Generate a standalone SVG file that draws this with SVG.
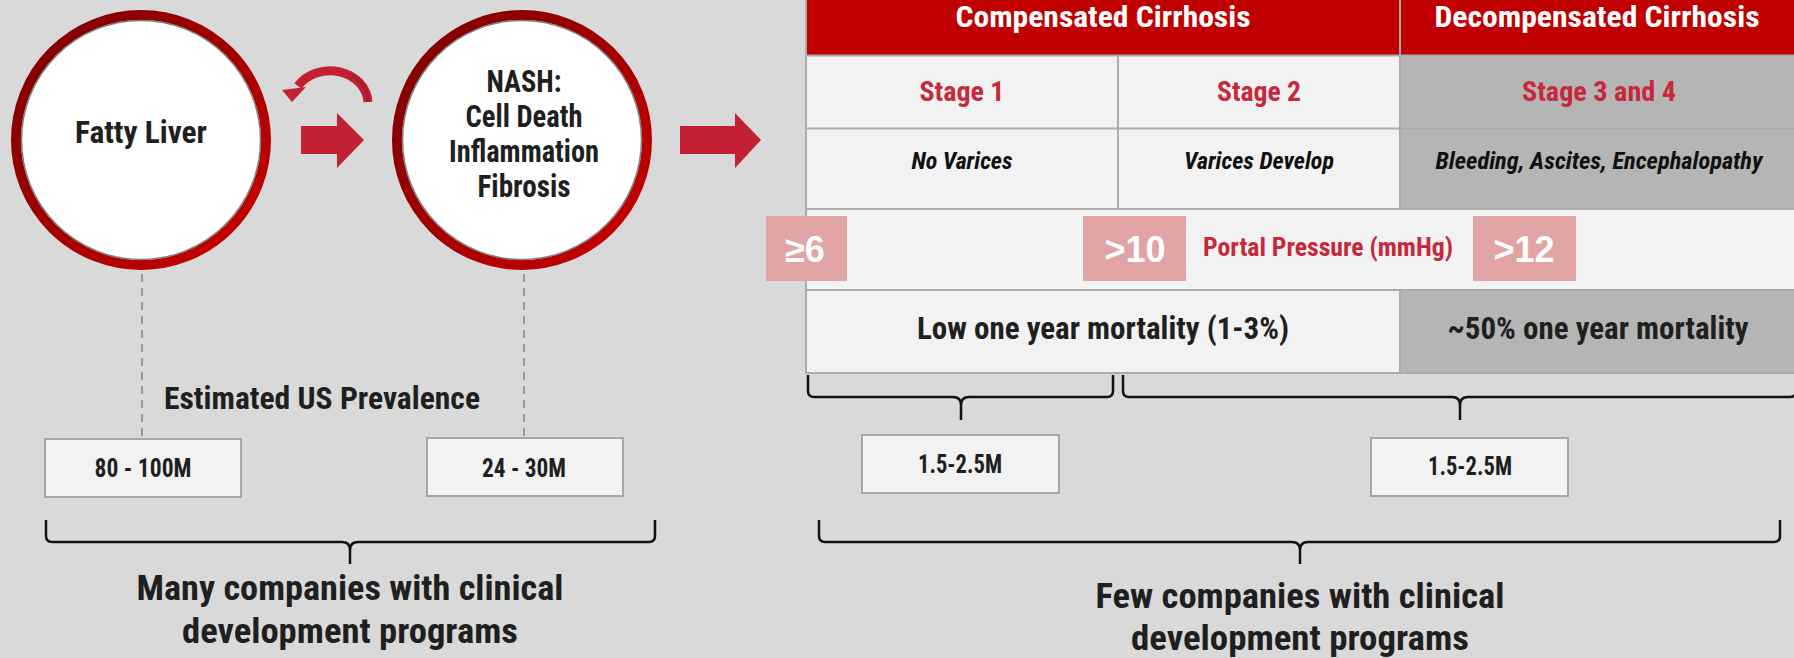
<svg xmlns="http://www.w3.org/2000/svg" width="1794" height="658" viewBox="0 0 1794 658">
<defs>
<linearGradient id="ring" x1="0" y1="0" x2="1" y2="1">
<stop offset="0" stop-color="#7a0000"/>
<stop offset="1" stop-color="#cc0000"/>
</linearGradient>
<style>
.t{font-family:"Roboto Condensed","Roboto","Liberation Sans",sans-serif;font-weight:700;fill:#1f1f1f;text-anchor:middle}
.w{fill:#ffffff}
.r{fill:#c8283c}
.i{font-style:italic;fill:#111}
.num{font-family:"Liberation Sans",Arial,sans-serif;font-weight:700;font-size:36px;fill:#ffffff;text-anchor:middle}
.cellL{fill:#f2f2f2}
.cellG{fill:#b5b5b5}
.grid{stroke:#ababab;stroke-width:2;fill:none}
.box{fill:#f2f2f2;stroke:#a6a6a6;stroke-width:2}
.pink{fill:#e0a4a4}
.brace{fill:none;stroke:#111;stroke-width:2.5;stroke-linejoin:round}
.dash{stroke:#9a9a9a;stroke-width:2;stroke-dasharray:8 6;fill:none}
.arr{fill:#c32033}
</style>
</defs>
<rect x="0" y="0" width="1794" height="658" fill="#d9d9d9"/>

<g id="connectors">
<line class="dash" x1="142" y1="274" x2="142" y2="438"/>
<line class="dash" x1="524" y1="274" x2="524" y2="437"/>
<polygon class="arr" points="301,126 337,126 337,113 364,140 337,168 337,154 301,154"/>
<polygon class="arr" points="680,126 735,126 735,113 761,140 735,168 735,154 680,154"/>
<path d="M368,102 A38,33 0 0 0 298,86" fill="none" stroke="#c32033" stroke-width="9"/>
<path d="M368,102 A38,33 0 0 0 352,75" fill="none" stroke="#a81c2c" stroke-width="4" transform="translate(0,0)"/>
<polygon class="arr" points="282,90 306,87 292,102"/>
</g>

<g id="node-fatty-liver">
<circle cx="141" cy="140" r="125" fill="#ffffff" stroke="url(#ring)" stroke-width="10"/>
<circle cx="141" cy="140" r="119.5" fill="none" stroke="#7f7f7f" stroke-width="1.5"/>
<text class="t" x="141" y="143" font-size="31" textLength="132" lengthAdjust="spacingAndGlyphs">Fatty Liver</text>
</g>

<g id="node-nash">
<circle cx="522" cy="140" r="125" fill="#ffffff" stroke="url(#ring)" stroke-width="10"/>
<circle cx="522" cy="140" r="119.5" fill="none" stroke="#7f7f7f" stroke-width="1.5"/>
<text class="t" x="524" y="92" font-size="31" textLength="75" lengthAdjust="spacingAndGlyphs">NASH:</text>
<text class="t" x="524" y="127" font-size="31" textLength="117" lengthAdjust="spacingAndGlyphs">Cell Death</text>
<text class="t" x="524" y="162" font-size="31" textLength="150" lengthAdjust="spacingAndGlyphs">Inflammation</text>
<text class="t" x="524" y="197" font-size="31" textLength="93" lengthAdjust="spacingAndGlyphs">Fibrosis</text>
</g>

<g id="label-prevalence">
<text class="t" x="322" y="409" font-size="31" textLength="316" lengthAdjust="spacingAndGlyphs">Estimated US Prevalence</text>
</g>

<g id="node-80-100M">
<rect class="box" x="45" y="439" width="196" height="58"/>
<text class="t" x="143" y="477" font-size="25" textLength="97" lengthAdjust="spacingAndGlyphs">80 - 100M</text>
</g>
<g id="node-24-30M">
<rect class="box" x="427" y="438" width="196" height="58"/>
<text class="t" x="524" y="477" font-size="25" textLength="84" lengthAdjust="spacingAndGlyphs">24 - 30M</text>
</g>

<g id="table">
<rect x="806" y="0" width="988" height="55" fill="#c00000"/>
<rect class="cellL" x="806" y="55" width="594" height="235"/>
<rect class="cellG" x="1400" y="55" width="394" height="154"/>
<rect class="cellL" x="1400" y="209" width="394" height="81"/>
<rect class="cellL" x="806" y="290" width="594" height="83"/>
<rect class="cellG" x="1400" y="290" width="394" height="83"/>
<path class="grid" d="M806,55.5 H1794 M806,128.5 H1794 M806,209 H1794 M806,290 H1794 M806,373 H1794 M806,0 V374 M1118,55 V209 M1400,0 V209 M1400,290 V373"/>
<text class="t w" x="1103" y="27" font-size="29" textLength="295" lengthAdjust="spacingAndGlyphs">Compensated Cirrhosis</text>
<text class="t w" x="1597" y="27" font-size="29" textLength="325" lengthAdjust="spacingAndGlyphs">Decompensated Cirrhosis</text>
<text class="t r" x="962" y="101" font-size="28" textLength="85" lengthAdjust="spacingAndGlyphs">Stage 1</text>
<text class="t r" x="1259" y="101" font-size="28" textLength="84" lengthAdjust="spacingAndGlyphs">Stage 2</text>
<text class="t r" x="1599" y="101" font-size="28" textLength="154" lengthAdjust="spacingAndGlyphs">Stage 3 and 4</text>
<text class="t i" x="962" y="169" font-size="23" textLength="101" lengthAdjust="spacingAndGlyphs">No Varices</text>
<text class="t i" x="1259" y="169" font-size="23" textLength="150" lengthAdjust="spacingAndGlyphs">Varices Develop</text>
<text class="t i" x="1599" y="169" font-size="23" textLength="327" lengthAdjust="spacingAndGlyphs">Bleeding, Ascites, Encephalopathy</text>
<rect class="pink" x="766" y="216" width="81" height="65"/>
<rect class="pink" x="1083" y="216" width="103" height="65"/>
<rect class="pink" x="1473" y="216" width="103" height="65"/>
<text class="num" x="805" y="262">≥6</text>
<text class="num" x="1135" y="262">&gt;10</text>
<text class="num" x="1524" y="262">&gt;12</text>
<text class="t r" x="1328" y="256" font-size="26" textLength="250" lengthAdjust="spacingAndGlyphs">Portal Pressure (mmHg)</text>
<text class="t" x="1103" y="339" font-size="31" textLength="372" lengthAdjust="spacingAndGlyphs">Low one year mortality (1-3%)</text>
<text class="t" x="1598" y="339" font-size="31" textLength="301" lengthAdjust="spacingAndGlyphs">~50% one year mortality</text>
</g>

<g id="braces">
<path class="brace" d="M808,375 V391 Q808,397 814,397 H953 Q961,397 961,405 V420 M961,405 Q961,397 969,397 H1107 Q1113,397 1113,391 V375"/>
<path class="brace" d="M1123,375 V391 Q1123,397 1129,397 H1452 Q1460,397 1460,405 V420 M1460,405 Q1460,397 1468,397 H1790 Q1796,397 1796,391 V375"/>
<path class="brace" d="M46,520 V536 Q46,542 52,542 H342 Q350,542 350,550 V564 M350,550 Q350,542 358,542 H649 Q655,542 655,536 V520"/>
<path class="brace" d="M819,520 V536 Q819,542 825,542 H1292 Q1300,542 1300,550 V564 M1300,550 Q1300,542 1308,542 H1774 Q1780,542 1780,536 V520"/>
</g>

<g id="node-1-5-left">
<rect class="box" x="862" y="435" width="197" height="58"/>
<text class="t" x="960" y="473" font-size="25" textLength="84" lengthAdjust="spacingAndGlyphs">1.5-2.5M</text>
</g>
<g id="node-1-5-right">
<rect class="box" x="1371" y="438" width="197" height="58"/>
<text class="t" x="1470" y="475" font-size="25" textLength="84" lengthAdjust="spacingAndGlyphs">1.5-2.5M</text>
</g>

<g id="label-many">
<text class="t" x="350" y="600" font-size="35" textLength="427" lengthAdjust="spacingAndGlyphs">Many companies with clinical</text>
<text class="t" x="350" y="643" font-size="35" textLength="336" lengthAdjust="spacingAndGlyphs">development programs</text>
</g>
<g id="label-few">
<text class="t" x="1300" y="608" font-size="35" textLength="409" lengthAdjust="spacingAndGlyphs">Few companies with clinical</text>
<text class="t" x="1300" y="650" font-size="35" textLength="338" lengthAdjust="spacingAndGlyphs">development programs</text>
</g>
</svg>
